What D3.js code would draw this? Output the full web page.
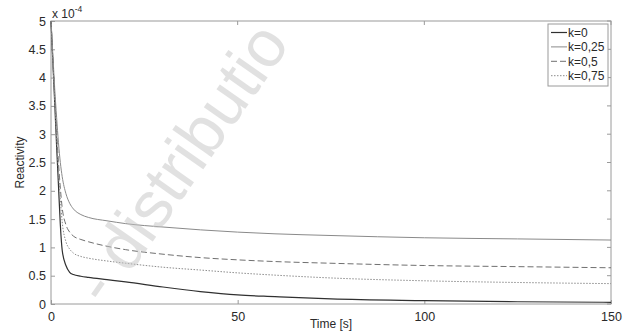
<!DOCTYPE html>
<html>
<head>
<meta charset="utf-8">
<script src="https://cdn.jsdelivr.net/npm/d3@7"></script>
<style>
  body { margin: 0; background: #fff; }
  svg text { font-family: "Liberation Sans", Arial, sans-serif; }
</style>
</head>
<body>
<div id="chart"></div>
<script>
// data (reactivity in units of 1e-4)
const time = [0, 0.5, 1, 1.5, 2, 2.5, 3, 4, 5, 6, 8, 10, 15, 20, 30, 40, 50, 60, 75, 100, 125, 150];
const k0   = [5.0, 4.27, 3.55, 2.8, 2.1, 1.4, 0.95, 0.68, 0.56, 0.52, 0.49, 0.47, 0.43, 0.39, 0.30, 0.22, 0.16, 0.13, 0.09, 0.06, 0.04, 0.03];
const k25  = [5.0, 4.4, 3.8, 3.3, 2.85, 2.5, 2.25, 1.95, 1.78, 1.68, 1.58, 1.53, 1.47, 1.42, 1.36, 1.31, 1.27, 1.24, 1.21, 1.17, 1.15, 1.13];
const k50  = [5.0, 4.3, 3.65, 3.05, 2.5, 2.05, 1.7, 1.4, 1.27, 1.2, 1.14, 1.10, 1.02, 0.96, 0.88, 0.82, 0.78, 0.75, 0.72, 0.68, 0.66, 0.64];
const k75  = [5.0, 4.3, 3.6, 2.95, 2.35, 1.85, 1.45, 1.1, 0.97, 0.9, 0.84, 0.81, 0.76, 0.72, 0.65, 0.60, 0.55, 0.51, 0.46, 0.41, 0.38, 0.36];
const seriesNames = ["k=0", "k=0,25", "k=0,5", "k=0,75"];
const xTicks = [0, 50, 100, 150];
const yTicks = [0, 0.5, 1, 1.5, 2, 2.5, 3, 3.5, 4, 4.5, 5];

const width = 630, height = 334;
const margin = { top: 21, right: 19, bottom: 30, left: 51 };

const svg = d3.select("#chart").append("svg")
  .attr("width", width)
  .attr("height", height);

const x = d3.scaleLinear().domain([0, 150]).range([margin.left, width - margin.right]);
const y = d3.scaleLinear().domain([0, 5]).range([height - margin.bottom, margin.top]);

// axes box
const boxColor = "#9a9a9a";
svg.append("rect")
  .attr("x", x(0)).attr("y", y(5))
  .attr("width", x(150) - x(0)).attr("height", y(0) - y(5))
  .attr("fill", "none").attr("stroke", boxColor).attr("stroke-width", 1);

const xAxis = d3.axisBottom(x).tickValues(xTicks).tickSizeInner(-4).tickSizeOuter(0).tickPadding(8);
const yAxis = d3.axisLeft(y).tickValues(yTicks).tickSizeInner(-4).tickSizeOuter(0).tickPadding(5)
  .tickFormat(d3.format("~g"));

const gx = svg.append("g").attr("transform", "translate(0," + y(0) + ")").call(xAxis);
const gy = svg.append("g").attr("transform", "translate(" + x(0) + ",0)").call(yAxis);
[gx, gy].forEach(g => {
  g.select(".domain").remove();
  g.selectAll("line").attr("stroke", boxColor);
  g.selectAll("text").attr("fill", "#2a2a2a").style("font-size", "12.5px");
});
// top/right ticks like matlab
svg.append("g").selectAll("line").data(xTicks).enter().append("line")
  .attr("x1", d => x(d)).attr("x2", d => x(d))
  .attr("y1", y(5)).attr("y2", y(5) + 4).attr("stroke", boxColor);
svg.append("g").selectAll("line").data(yTicks).enter().append("line")
  .attr("x1", x(150)).attr("x2", x(150) - 4)
  .attr("y1", d => y(d)).attr("y2", d => y(d)).attr("stroke", boxColor);

// exponent label
const expo = svg.append("text")
  .attr("x", x(0) + 1).attr("y", y(5) - 3)
  .attr("fill", "#2a2a2a").style("font-size", "12px");
expo.append("tspan").text("x 10");
expo.append("tspan").attr("dy", -6).style("font-size", "8.5px").text("-4");

// axis titles
svg.append("text")
  .attr("x", (x(0) + x(150)) / 2).attr("y", height - 6)
  .attr("text-anchor", "middle").attr("fill", "#2a2a2a").style("font-size", "12px")
  .text("Time [s]");
svg.append("text")
  .attr("transform", "translate(24," + (y(0) + y(5)) / 2 + ") rotate(-90)")
  .attr("text-anchor", "middle").attr("fill", "#2a2a2a").style("font-size", "12px")
  .text("Reactivity");

// curves
const styles = [
  { values: k0,  color: "#303030", dash: null,  w: 1.2 },
  { values: k25, color: "#8a8a8a", dash: null, w: 1 },
  { values: k50, color: "#707070", dash: "6,3", w: 1 },
  { values: k75, color: "#8c8c8c", dash: "1.5,1.5", w: 1 }
];
const line = d3.line()
  .x(d => x(d[0])).y(d => y(d[1]))
  .curve(d3.curveMonotoneX);

styles.forEach(s => {
  svg.append("path")
    .datum(time.map((t, i) => [t, s.values[i]]))
    .attr("d", line)
    .attr("fill", "none")
    .attr("stroke", s.color)
    .attr("stroke-width", s.w)
    .attr("stroke-dasharray", s.dash);
});

// legend
const lg = svg.append("g").attr("transform", "translate(548,24)");
lg.append("rect").attr("width", 60).attr("height", 62)
  .attr("fill", "#fff").attr("stroke", boxColor);
seriesNames.forEach((name, i) => {
  const yy = 8.5 + i * 14.4;
  lg.append("line").attr("x1", 3).attr("x2", 19).attr("y1", yy).attr("y2", yy)
    .attr("stroke", styles[i].color).attr("stroke-width", styles[i].w)
    .attr("stroke-dasharray", styles[i].dash);
  lg.append("text").attr("x", 20).attr("y", yy + 4.5)
    .attr("fill", "#2a2a2a").style("font-size", "12px").text(name);
});

// watermark
svg.append("text")
  .attr("transform", "translate(106,308) rotate(-55)")
  .attr("fill", "#c4c4c4").attr("opacity", 0.5)
  .style("font-size", "66px")
  .text("- distributio");
</script>
</body>
</html>
